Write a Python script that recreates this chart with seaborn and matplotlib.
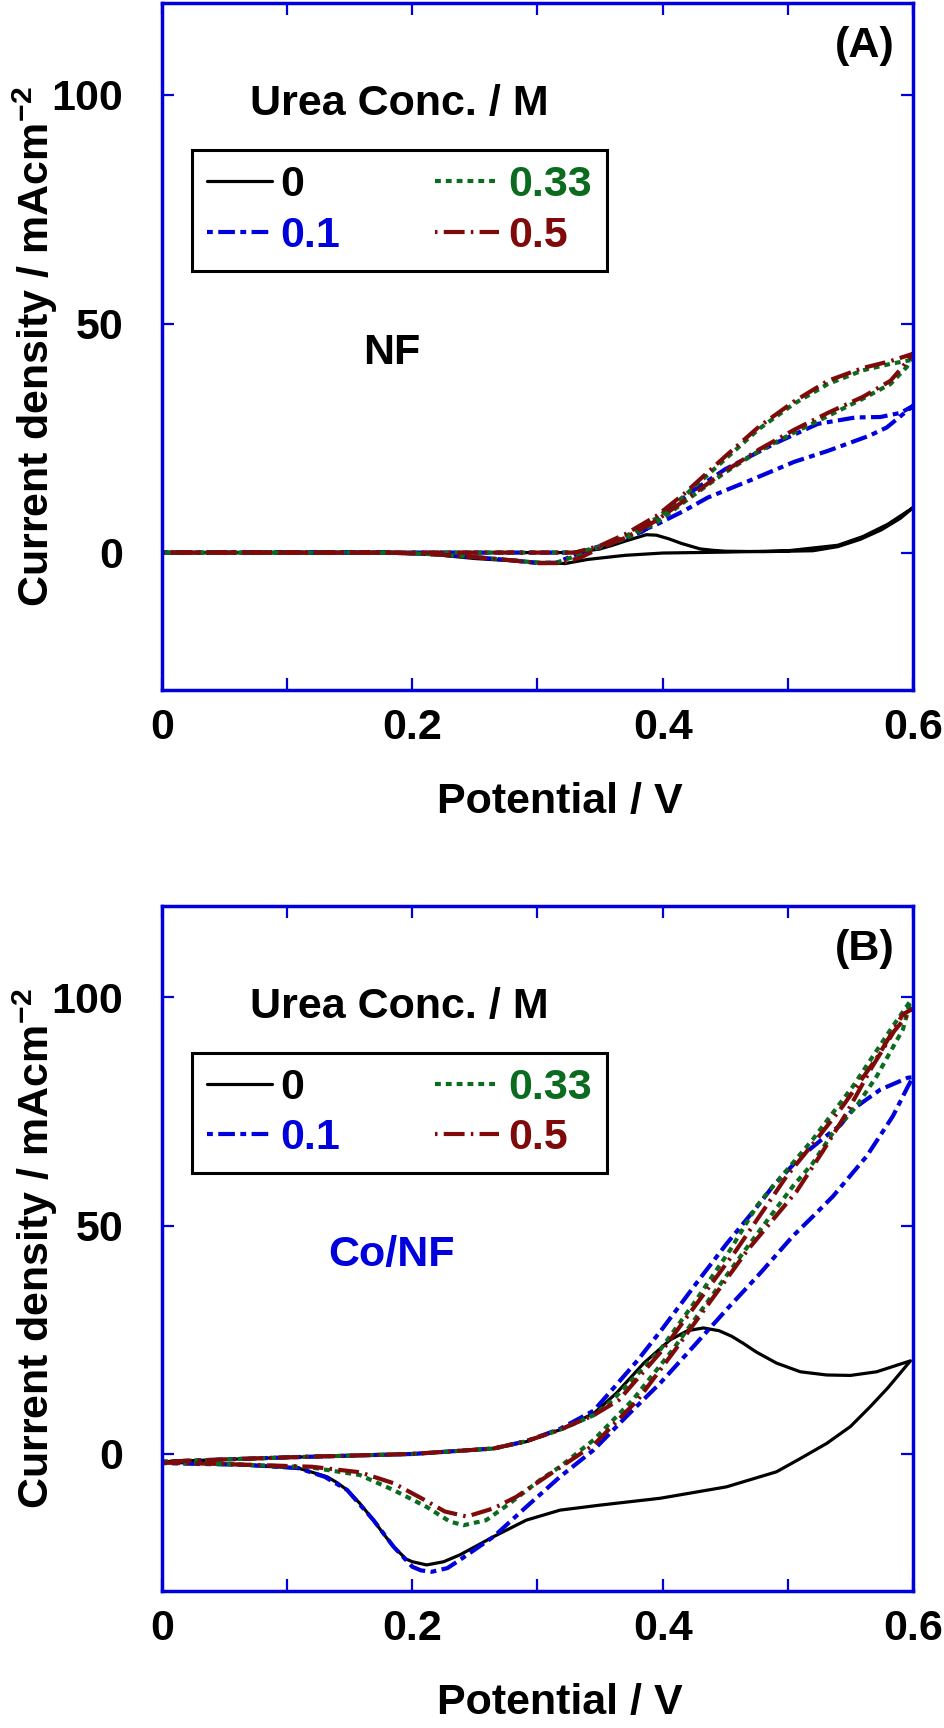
import matplotlib
matplotlib.use("Agg")
import matplotlib.pyplot as plt
import seaborn as sns
from matplotlib.ticker import MultipleLocator, FuncFormatter

# ---------------- data ----------------
conc_labels = ["0", "0.1", "0.33", "0.5"]

# Panel A: NF electrode (closed CV loops: forward then reverse)
A0_V = [0.00, 0.10, 0.20, 0.30, 0.33, 0.35, 0.36, 0.37, 0.387, 0.395, 0.405, 0.415, 0.43, 0.44, 0.45, 0.48, 0.52, 0.54, 0.558, 0.575, 0.59, 0.60,
        0.58, 0.56, 0.54, 0.50, 0.45, 0.40, 0.37, 0.34, 0.322, 0.30, 0.28, 0.25, 0.22, 0.20, 0.10, 0.00]
A0_I = [0, 0, 0, 0, 0, 0.8, 1.6, 2.5, 3.9, 3.8, 3.0, 2.0, 0.8, 0.5, 0.3, 0.2, 0.4, 1.3, 2.9, 5.0, 7.5, 9.8,
        6.2, 3.5, 1.6, 0.4, 0.1, -0.1, -0.6, -1.5, -2.4, -2.1, -1.8, -1.3, -0.5, -0.1, 0, 0]

A1_V = [0.00, 0.10, 0.20, 0.30, 0.33, 0.35, 0.367, 0.384, 0.40, 0.422, 0.45, 0.491, 0.524, 0.554, 0.574, 0.59, 0.60,
        0.579, 0.565, 0.532, 0.505, 0.472, 0.436, 0.417, 0.395, 0.367, 0.345, 0.33, 0.315, 0.30, 0.28, 0.25, 0.22, 0.18, 0.10, 0.00]
A1_I = [0, 0, 0, 0, 0, 1.0, 2.9, 4.6, 8.0, 13.1, 18.2, 24.0, 28.1, 29.5, 29.6, 30.5, 32.0,
        27.3, 25.5, 22.2, 19.8, 16.0, 12.0, 9.1, 6.1, 2.9, 1.0, -0.5, -2.2, -2.3, -1.7, -1.0, -0.4, 0, 0, 0]

A2_V = [0.00, 0.10, 0.20, 0.30, 0.33, 0.35, 0.37, 0.395, 0.417, 0.45, 0.477, 0.505, 0.532, 0.56, 0.582, 0.598,
        0.595, 0.582, 0.56, 0.532, 0.505, 0.477, 0.45, 0.422, 0.395, 0.37, 0.345, 0.33, 0.315, 0.30, 0.28, 0.25, 0.22, 0.18, 0.10, 0.00]
A2_I = [0, 0, 0, 0, 0, 1.2, 3.5, 7.5, 12.3, 20.4, 27.0, 32.5, 36.8, 39.8, 41.2, 42.0,
        40.5, 36.8, 33.6, 29.8, 26.2, 22.2, 17.5, 12.0, 6.5, 3.0, 0.8, -0.8, -2.2, -2.2, -1.7, -1.0, -0.4, 0, 0, 0]

A3_V = [0.00, 0.10, 0.20, 0.30, 0.33, 0.35, 0.37, 0.395, 0.417, 0.45, 0.477, 0.505, 0.532, 0.56, 0.582, 0.60,
        0.59, 0.582, 0.56, 0.532, 0.505, 0.477, 0.45, 0.422, 0.395, 0.37, 0.35, 0.335, 0.32, 0.30, 0.28, 0.25, 0.22, 0.18, 0.10, 0.00]
A3_I = [0, 0, 0, 0, 0, 1.5, 4.0, 8.0, 12.8, 21.0, 27.5, 33.0, 37.5, 40.3, 41.8, 43.4,
        40.0, 37.5, 34.0, 30.5, 26.8, 22.5, 17.8, 12.3, 7.0, 3.2, 1.0, -1.0, -2.3, -2.3, -1.7, -1.0, -0.4, 0, 0, 0]

# Panel B: Co/NF electrode
B0_V = [0.00, 0.05, 0.105, 0.20, 0.265, 0.291, 0.318, 0.345, 0.363, 0.385, 0.406, 0.42, 0.4325, 0.445, 0.455, 0.464, 0.475, 0.491, 0.51, 0.531, 0.55, 0.571, 0.598,
        0.58, 0.566, 0.55, 0.531, 0.51, 0.491, 0.451, 0.398, 0.35, 0.318, 0.291, 0.265, 0.238, 0.225, 0.2115, 0.20, 0.195, 0.185, 0.177, 0.169, 0.158, 0.148, 0.14, 0.132, 0.109, 0.05, 0.00]
B0_I = [-1.7, -1.2, -0.7, 0.0, 1.2, 2.7, 5.3, 8.9, 13.3, 19.9, 25.0, 27.0, 27.6, 27.0, 25.8, 24.3, 22.3, 19.9, 18.0, 17.3, 17.2, 18.0, 20.4,
        14.5, 10.4, 6.0, 2.3, -1.0, -3.9, -7.2, -9.7, -11.2, -12.3, -14.5, -18.1, -22.1, -23.6, -24.3, -23.6, -23.0, -20.3, -17.5, -14.5, -10.8, -7.9, -6.3, -5.0, -3.1, -2.2, -1.8]

B1_V = [0.00, 0.05, 0.105, 0.20, 0.265, 0.291, 0.318, 0.345, 0.361, 0.38, 0.40, 0.43, 0.451, 0.478, 0.488, 0.51, 0.53, 0.542, 0.552, 0.574, 0.596, 0.60,
        0.596, 0.584, 0.563, 0.536, 0.52, 0.504, 0.478, 0.451, 0.4245, 0.398, 0.371, 0.345, 0.318, 0.291, 0.265, 0.238, 0.228, 0.2155, 0.207, 0.20, 0.185, 0.169, 0.148, 0.13, 0.109, 0.069, 0.00]
B1_I = [-1.7, -1.2, -0.7, 0.0, 1.2, 2.8, 5.5, 9.5, 14.5, 20.5, 27.5, 38.5, 46.0, 55.0, 58.6, 65.0, 69.5, 72.0, 75.5, 79.8, 82.4, 82.5,
        80.5, 74.0, 65.2, 56.4, 52.0, 47.7, 39.6, 31.6, 23.5, 15.5, 8.2, 0.9, -5.0, -11.6, -18.1, -23.2, -25.0, -25.8, -25.5, -24.7, -20.3, -14.5, -7.9, -5.0, -3.1, -2.4, -2.0]

B2_V = [0.00, 0.05, 0.105, 0.20, 0.265, 0.291, 0.318, 0.345, 0.36, 0.38, 0.398, 0.425, 0.454, 0.475, 0.488, 0.504, 0.52, 0.536, 0.552, 0.568, 0.584, 0.598,
        0.592, 0.571, 0.555, 0.536, 0.52, 0.504, 0.466, 0.408, 0.376, 0.345, 0.318, 0.302, 0.278, 0.259, 0.241, 0.23, 0.2115, 0.185, 0.158, 0.118, 0.05, 0.00]
B2_I = [-1.7, -1.2, -0.7, 0.0, 1.2, 2.8, 5.3, 8.5, 11.8, 17.5, 22.8, 33.0, 44.7, 54.2, 58.6, 63.7, 68.9, 74.7, 80.5, 87.1, 93.7, 99.2,
        93.0, 82.7, 76.2, 70.3, 63.7, 58.6, 44.7, 22.8, 11.8, 3.1, -2.8, -5.7, -10.8, -14.5, -15.6, -14.8, -11.6, -7.9, -4.6, -2.9, -2.2, -1.9]

B3_V = [0.00, 0.05, 0.105, 0.20, 0.265, 0.291, 0.318, 0.345, 0.365, 0.40, 0.459, 0.499, 0.523, 0.544, 0.572, 0.592, 0.60,
        0.585, 0.567, 0.547, 0.528, 0.507, 0.468, 0.41, 0.38, 0.345, 0.315, 0.283, 0.265, 0.2435, 0.226, 0.21, 0.185, 0.158, 0.12, 0.05, 0.00]
B3_I = [-1.7, -1.2, -0.7, 0.0, 1.2, 2.8, 5.3, 8.5, 11.8, 22.8, 44.7, 60.8, 68.9, 76.2, 87.1, 96.3, 97.5,
        92.6, 84.6, 74.7, 66.3, 57.5, 44.7, 22.8, 11.8, 2.0, -3.5, -9.4, -11.9, -13.7, -12.6, -10.1, -6.4, -4.0, -2.8, -2.2, -1.9]

x_ticklabels = ["0", "0.2", "0.4", "0.6"]
y_ticklabels = ["0", "50", "100"]

# ---------------- styling ----------------
sns.set_style("white")
plt.rcParams["font.family"] = ["Liberation Sans", "DejaVu Sans"]
plt.rcParams["font.weight"] = "bold"
plt.rcParams["text.color"] = "black"
plt.rcParams["axes.labelcolor"] = "black"
plt.rcParams["xtick.color"] = "black"
plt.rcParams["ytick.color"] = "black"
plt.rcParams["mathtext.fontset"] = "custom"
plt.rcParams["mathtext.rm"] = "Liberation Sans:bold"
plt.rcParams["mathtext.bf"] = "Liberation Sans:bold"
plt.rcParams["mathtext.default"] = "bf"

AX_BLUE = "#0000DD"
colors = ["#000000", "#0000DD", "#0B6B1F", "#7F0A0A"]
styles = ["-", (0, (1.4, 1.3, 4.0, 1.3)), (0, (1.4, 1.2)), (0, (0.6, 1.5, 5.0, 1.5))]
widths = [2.3, 3.0, 3.0, 3.0]
FS = 31

fig = plt.figure(figsize=(9.45, 17.28), dpi=100)
ax_a = fig.add_axes([0.1714, 0.6007, 0.7947, 0.3976])
ax_b = fig.add_axes([0.1714, 0.0793, 0.7947, 0.3964])

panels = [
    (ax_a, [(A0_V, A0_I), (A1_V, A1_I), (A2_V, A2_I), (A3_V, A3_I)], "(A)", "NF", "black"),
    (ax_b, [(B0_V, B0_I), (B1_V, B1_I), (B2_V, B2_I), (B3_V, B3_I)], "(B)", "Co/NF", AX_BLUE),
]

for ax, series, tag, name, name_color in panels:
    for (vv, ii), lab, c, ls, lw in zip(series, conc_labels, colors, styles, widths):
        sns.lineplot(x=vv, y=ii, sort=False, estimator=None, ax=ax, color=c,
                     linestyle=ls, linewidth=lw, label=lab)
    ax.set_xlim(0, 0.6)
    ax.set_ylim(-30, 120)
    ax.xaxis.set_major_locator(MultipleLocator(0.2))
    ax.xaxis.set_minor_locator(MultipleLocator(0.1))
    ax.yaxis.set_major_locator(MultipleLocator(50))
    ax.xaxis.set_major_formatter(FuncFormatter(lambda v, p: x_ticklabels[int(round(v / 0.2))] if 0 <= round(v / 0.2) < 4 else ""))
    ax.yaxis.set_major_formatter(FuncFormatter(lambda v, p: y_ticklabels[int(round(v / 50))] if 0 <= round(v / 50) < 3 else ""))
    for sp in ax.spines.values():
        sp.set_color(AX_BLUE)
        sp.set_linewidth(2.5)
        sp.set_visible(True)
    ax.tick_params(which="both", direction="in", length=8.5, width=1.6, color=AX_BLUE,
                   top=True, right=True, bottom=True, left=True)
    ax.tick_params(axis="x", which="major", pad=13, labelsize=FS, labelcolor="black")
    ax.tick_params(axis="y", which="major", pad=28, labelsize=FS, labelcolor="black")
    for t in ax.get_xticklabels() + ax.get_yticklabels():
        t.set_fontweight("bold")
    ax.set_xlabel("Potential / V", fontsize=FS, fontweight="bold", color="black")
    ax.set_ylabel("Current density / mAcm$^{-2}$", fontsize=FS, fontweight="bold", color="black")
    ax.xaxis.set_label_coords(0.53, -0.134)
    ax.yaxis.set_label_coords(-0.136, 0.5)

    ax.text(0.975, 1 - 43 / 687, tag, transform=ax.transAxes, ha="right", va="center",
            fontsize=FS, fontweight="bold", color="black")
    ax.text(0.117, 1 - 112 / 687, "Urea Conc. / M", transform=ax.transAxes, ha="left",
            va="baseline", fontsize=FS, fontweight="bold", color="black")
    ax.text(0.306, 1 - 350 / 687, name, transform=ax.transAxes, ha="center", va="center",
            fontsize=FS, fontweight="bold", color=name_color)

    leg = ax.legend(ncol=2, loc="upper left", bbox_to_anchor=(0.040, 1 - 147 / 687),
                    borderaxespad=0, frameon=True, fancybox=False, shadow=False,
                    handlelength=1.5, handletextpad=0.2, columnspacing=2.2,
                    labelspacing=0.25, borderpad=0.35, labelcolor="linecolor",
                    prop={"size": FS, "weight": "bold"})
    fr = leg.get_frame()
    fr.set_edgecolor("black")
    fr.set_linewidth(2.2)
    fr.set_alpha(1)

fig.savefig("out.png", dpi=100)
